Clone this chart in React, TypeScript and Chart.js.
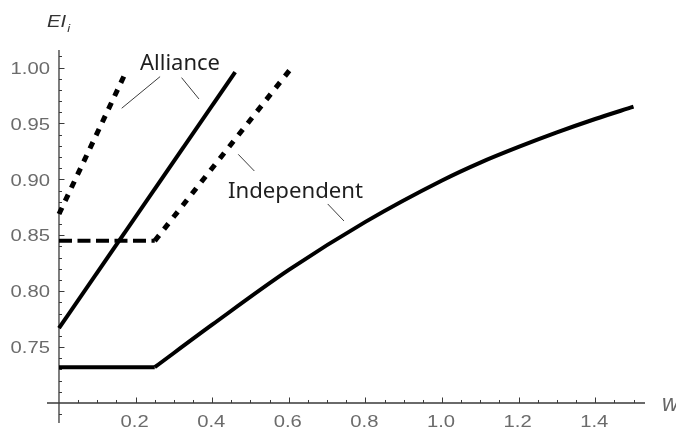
import { useEffect, useRef } from "react";
import { Chart, registerables } from "chart.js";

Chart.register(...registerables);

// ---- data (value coordinates) ----
const allianceSolidX = [0, 0.46];
const allianceSolidY = [0.767, 0.996];
const allianceDottedX = [0, 0.172];
const allianceDottedY = [0.869, 0.994];
const indepFlatX = [0, 0.25];
const indepFlatY = [0.732, 0.732];
const indepCurveX = [0.25, 0.4, 0.6, 0.8, 1.0, 1.1, 1.2, 1.3, 1.4, 1.5];
const indepCurveY = [0.732, 0.77, 0.819, 0.862, 0.899, 0.915, 0.929, 0.942, 0.954, 0.965];
const indepDashedX = [0, 0.25];
const indepDashedY = [0.845, 0.845];
const indepDottedX = [0.25, 0.603];
const indepDottedY = [0.845, 0.998];

// ---- axes ----
const xMin = -0.0313;
const xMax = 1.53;
const yMin = 0.6821;
const yMax = 1.0157;
const axisOriginX = 0;
const axisOriginY = 0.7;
const xMajorTicks = [0.2, 0.4, 0.6, 0.8, 1.0, 1.2, 1.4];
const xTickLabels = ["0.2", "0.4", "0.6", "0.8", "1.0", "1.2", "1.4"];
const yMajorTicks = [0.75, 0.8, 0.85, 0.9, 0.95, 1.0];
const yTickLabels = ["0.75", "0.80", "0.85", "0.90", "0.95", "1.00"];
const xMinorStep = 0.05;
const yMinorStep = 0.01;

// ---- annotations ----
const annotationTexts = ["Alliance", "Independent"];
const annotationX = [0.316, 0.6175];
const annotationY = [0.9977, 0.8831];
const annotationWidths = [80, 135];
const leaderX1 = [0.264, 0.32, 0.468, 0.7016];
const leaderY1 = [0.9919, 0.991, 0.9224, 0.878];
const leaderX2 = [0.1637, 0.3655, 0.51, 0.744];
const leaderY2 = [0.9636, 0.9719, 0.9075, 0.8628];

const pts = (xs: number[], ys: number[]) => xs.map((x, i) => ({ x, y: ys[i] }));

const TEXT_STRETCH = 1.19;

export default function App() {
  const ref = useRef<HTMLCanvasElement | null>(null);

  useEffect(() => {
    if (!ref.current) return;

    const axesPlugin = {
      id: "mathAxes",
      beforeDatasetsDraw(chart: any) {
        const { ctx } = chart;
        const xs = chart.scales.x;
        const ys = chart.scales.y;
        const ox = xs.getPixelForValue(axisOriginX);
        const oy = ys.getPixelForValue(axisOriginY);
        ctx.save();
        ctx.strokeStyle = "#3a3a3a";
        ctx.lineWidth = 1.3;
        ctx.beginPath();
        ctx.moveTo(xs.getPixelForValue(xMin), oy);
        ctx.lineTo(xs.getPixelForValue(xMax), oy);
        ctx.moveTo(ox, ys.getPixelForValue(yMin));
        ctx.lineTo(ox, ys.getPixelForValue(yMax));
        ctx.stroke();
        ctx.lineWidth = 1;
        ctx.beginPath();
        // x ticks (pointing up)
        for (let i = 1; i * xMinorStep <= xMax + 1e-9; i++) {
          const v = i * xMinorStep;
          const major = xMajorTicks.some((t) => Math.abs(t - v) < 1e-6);
          const px = Math.round(xs.getPixelForValue(v)) + 0.5;
          ctx.moveTo(px, oy);
          ctx.lineTo(px, oy - (major ? 5.5 : 3));
        }
        // y ticks (pointing right)
        for (let i = -2; axisOriginY + i * yMinorStep <= yMax + 1e-9; i++) {
          const v = axisOriginY + i * yMinorStep;
          if (v < yMin || i === 0) continue;
          const major = yMajorTicks.some((t) => Math.abs(t - v) < 1e-6);
          const py = Math.round(ys.getPixelForValue(v)) + 0.5;
          ctx.moveTo(ox, py);
          ctx.lineTo(ox + (major ? 5.5 : 3), py);
        }
        ctx.stroke();

        // tick labels
        ctx.fillStyle = "#6b6b6b";
        ctx.font = '17px "Liberation Sans", Arial, sans-serif';
        ctx.textBaseline = "alphabetic";
        yMajorTicks.forEach((v, i) => {
          const py = ys.getPixelForValue(v);
          ctx.save();
          ctx.translate(ox - 9, py + 6.2);
          ctx.scale(TEXT_STRETCH, 1);
          ctx.textAlign = "right";
          ctx.fillText(yTickLabels[i], 0, 0);
          ctx.restore();
        });
        xMajorTicks.forEach((v, i) => {
          const px = xs.getPixelForValue(v);
          ctx.save();
          ctx.translate(px - 1, oy + 24.3);
          ctx.scale(TEXT_STRETCH, 1);
          ctx.textAlign = "center";
          ctx.fillText(xTickLabels[i], 0, 0);
          ctx.restore();
        });

        // axis titles
        ctx.fillStyle = "#333";
        ctx.textAlign = "left";
        ctx.save();
        ctx.translate(ox - 12, ys.getPixelForValue(yMax) - 23);
        ctx.scale(TEXT_STRETCH, 1);
        ctx.font = 'italic 17px "Liberation Sans", Arial, sans-serif';
        ctx.fillText("EI", 0, 0);
        ctx.font = 'italic 11px "Liberation Sans", Arial, sans-serif';
        ctx.fillText("i", 17, 5);
        ctx.restore();
        ctx.fillStyle = "#666";
        ctx.font = 'italic 23px "Liberation Sans", Arial, sans-serif';
        ctx.fillText("w", xs.getPixelForValue(xMax) + 17, oy + 8);
        ctx.restore();
      },
      afterDraw(chart: any) {
        const { ctx } = chart;
        const xs = chart.scales.x;
        const ys = chart.scales.y;
        ctx.save();
        ctx.fillStyle = "#1e1e1e";
        ctx.font = '21px "Noto Sans", "Open Sans", sans-serif';
        ctx.textAlign = "center";
        ctx.textBaseline = "alphabetic";
        annotationTexts.forEach((t, i) => {
          const w = ctx.measureText(t).width;
          const sx = annotationWidths[i] / w;
          ctx.save();
          ctx.translate(xs.getPixelForValue(annotationX[i]), ys.getPixelForValue(annotationY[i]));
          ctx.scale(sx, 1);
          ctx.fillText(t, 0, 0);
          ctx.restore();
        });
        ctx.restore();
      },
    };

    const solid = (data: any) => ({
      data,
      borderColor: "#000",
      borderWidth: 4,
      pointRadius: 0,
      borderCapStyle: "butt",
      borderJoinStyle: "round",
      fill: false,
    });

    const leaderSets = leaderX1.map((x1, i) => ({
      data: [
        { x: x1, y: leaderY1[i] },
        { x: leaderX2[i], y: leaderY2[i] },
      ],
      borderColor: "#3c3c3c",
      borderWidth: 1,
      pointRadius: 0,
      fill: false,
    }));

    const chart = new Chart(ref.current, {
      type: "line",
      data: {
        datasets: [
          ...leaderSets,
          solid(pts(allianceSolidX, allianceSolidY)),
          solid(pts(indepFlatX, indepFlatY)),
          { ...solid(pts(indepCurveX, indepCurveY)), cubicInterpolationMode: "monotone" },
          { ...solid(pts(indepDashedX, indepDashedY)), borderDash: [13, 5.5] },
          { ...solid(pts(indepDottedX, indepDottedY)), borderWidth: 5, borderDash: [7, 8] },
          { ...solid(pts(allianceDottedX, allianceDottedY)), borderWidth: 5, borderDash: [7, 7.5] },
        ] as any,
      },
      options: {
        animation: false,
        responsive: true,
        maintainAspectRatio: false,
        layout: { padding: { left: 47, right: 31, top: 50, bottom: 7 } },
        plugins: { legend: { display: false }, tooltip: { enabled: false }, title: { display: false } },
        scales: {
          x: { type: "linear", display: false, min: xMin, max: xMax },
          y: { type: "linear", display: false, min: yMin, max: yMax },
        },
      },
      plugins: [axesPlugin],
    });

    return () => chart.destroy();
  }, []);

  return (
    <div style={{ position: "fixed", left: 0, top: 0, width: 676, height: 430, background: "#fff" }}>
      <canvas ref={ref} />
    </div>
  );
}
